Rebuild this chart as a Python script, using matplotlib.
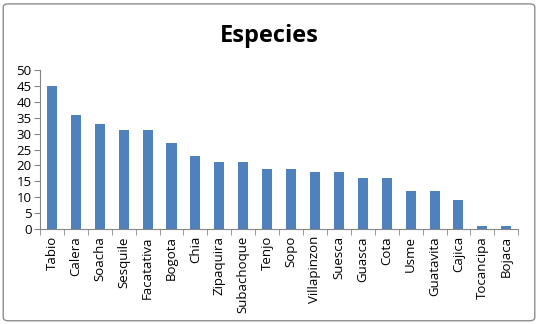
import numpy as np
import matplotlib.pyplot as plt
from matplotlib.patches import FancyBboxPatch

municipios = ['Tabio', 'Calera', 'Soacha', 'Sesquile', 'Facatativa', 'Bogota', 'Chia',
              'Zipaquira', 'Subachoque', 'Tenjo', 'Sopo', 'Villapinzon', 'Suesca',
              'Guasca', 'Cota', 'Usme', 'Guatavita', 'Cajica', 'Tocancipa', 'Bojaca']
especies = [45, 36, 33, 31, 31, 27, 23, 21, 21, 19, 19, 18, 18, 16, 16, 12, 12, 9, 1, 1]
y_ticks = [0, 5, 10, 15, 20, 25, 30, 35, 40, 45, 50]

plt.rcParams['font.family'] = ['Open Sans', 'DejaVu Sans']

fig = plt.figure(figsize=(5.38, 3.24), dpi=100)
ax = fig.add_axes([0.0743, 0.293, 0.889, 0.491])

x = np.arange(len(municipios))
ax.bar(x, especies, width=0.42, color='#4F81BD')

ax.set_xlim(-0.5, len(municipios) - 0.5)
ax.set_ylim(0, 50)
ax.set_yticks(y_ticks)
ax.set_yticklabels([str(v) for v in y_ticks], fontsize=9.5)

# category labels at centers, tick marks between categories
ax.set_xticks(x)
ax.set_xticklabels(municipios, rotation=90, fontsize=9.5)
ax.tick_params(axis='x', length=0, pad=5)
ax.set_xticks(np.arange(-0.5, len(municipios)), minor=True)
ax.tick_params(axis='x', which='minor', length=4, color='#868686')
ax.tick_params(axis='y', length=4, color='#868686', pad=2)

for side in ['top', 'right']:
    ax.spines[side].set_visible(False)
for side in ['left', 'bottom']:
    ax.spines[side].set_color('#868686')

fig.text(0.5, 0.89, 'Especies', ha='center', va='center', fontsize=17, fontweight='bold')

# outer chart border
border = FancyBboxPatch((0.006, 0.01), 0.988, 0.978, boxstyle='round,pad=0,rounding_size=0.01',
                        transform=fig.transFigure, fill=False, edgecolor='#8c8c8c', linewidth=1)
fig.patches.append(border)

fig.savefig('out.png', dpi=100)
